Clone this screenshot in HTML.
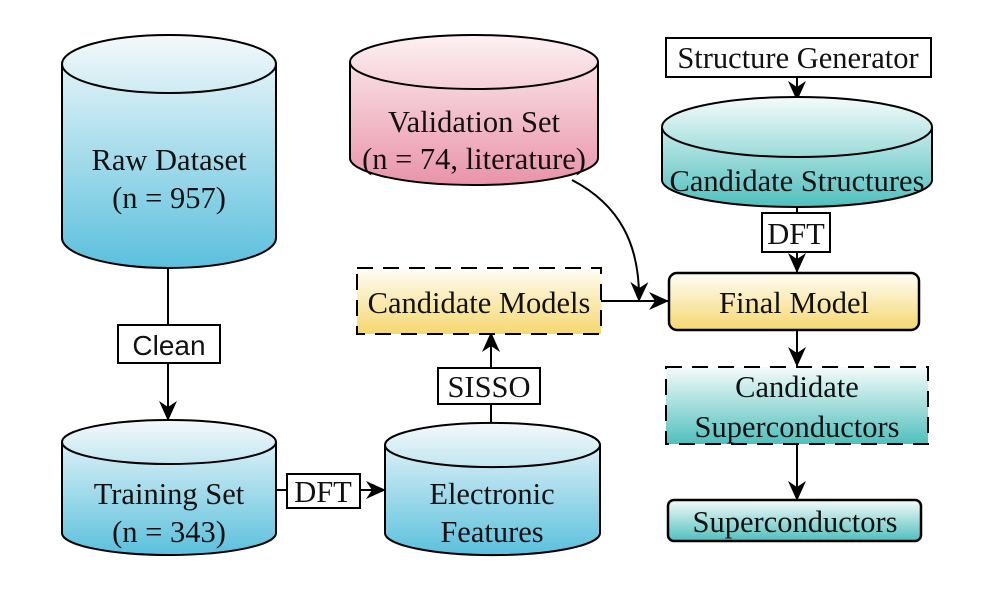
<!DOCTYPE html>
<html><head><meta charset="utf-8"><style>
html,body{margin:0;padding:0;background:#fff;}
svg{display:block;}
text{font-family:"Liberation Serif","Times New Roman",serif;font-size:30.5px;fill:#111;text-anchor:middle;}
</style></head><body>
<svg width="996" height="595" viewBox="0 0 996 595" xmlns="http://www.w3.org/2000/svg">
<defs>
<linearGradient id="blue" x1="0" y1="0" x2="0" y2="1"><stop offset="0" stop-color="#f4f9fb"/><stop offset="1" stop-color="#5bc0dd"/></linearGradient>
<linearGradient id="pink" x1="0" y1="0" x2="0" y2="1"><stop offset="0" stop-color="#fdf1f3"/><stop offset="1" stop-color="#e993a9"/></linearGradient>
<linearGradient id="teal" x1="0" y1="0" x2="0" y2="1"><stop offset="0" stop-color="#f5fbfb"/><stop offset="1" stop-color="#4fc0be"/></linearGradient>
<linearGradient id="yel" x1="0" y1="0" x2="0" y2="1"><stop offset="0" stop-color="#fffdf6"/><stop offset="1" stop-color="#f5d86f"/></linearGradient>
<marker id="ah2" markerWidth="20" markerHeight="20" refX="19" refY="10" orient="auto" markerUnits="userSpaceOnUse"><path d="M0,1 L20,10 L0,19 L6,10 Z" fill="#000"/></marker>
</defs>

<path d="M62,64 L62,238 A107,30 0 0 0 276,238 L276,64 A107,29 0 0 0 62,64 Z" fill="url(#blue)" stroke="#000" stroke-width="2"/>
<path d="M62,64 A107,29 0 0 0 276,64" fill="none" stroke="#000" stroke-width="2"/>
<text x="169" y="170">Raw Dataset</text>
<text x="169" y="208">(n = 957)</text>

<line x1="168" y1="268" x2="168" y2="420" stroke="#000" stroke-width="2" marker-end="url(#ah2)"/>
<rect x="118" y="325" width="102" height="38" fill="#fff" stroke="#000" stroke-width="2"/>
<text x="169" y="355" style="font-family:'Liberation Sans',sans-serif;font-size:28px">Clean</text>

<path d="M62,442 L62,533 A107,22 0 0 0 276,533 L276,442 A107,22 0 0 0 62,442 Z" fill="url(#blue)" stroke="#000" stroke-width="2"/>
<path d="M62,442 A107,22 0 0 0 276,442" fill="none" stroke="#000" stroke-width="2"/>
<text x="169" y="504">Training Set</text>
<text x="169" y="542">(n = 343)</text>

<line x1="276" y1="490" x2="385" y2="490" stroke="#000" stroke-width="2" marker-end="url(#ah2)"/>
<rect x="287" y="474" width="73" height="34" fill="#fff" stroke="#000" stroke-width="2"/>
<text x="323" y="502">DFT</text>

<path d="M385,445 L385,533 A107,22 0 0 0 600,533 L600,445 A107,22 0 0 0 385,445 Z" fill="url(#blue)" stroke="#000" stroke-width="2"/>
<path d="M385,445 A107,22 0 0 0 600,445" fill="none" stroke="#000" stroke-width="2"/>
<text x="492" y="504">Electronic</text>
<text x="492" y="542">Features</text>

<line x1="491" y1="423" x2="491" y2="333" stroke="#000" stroke-width="2" marker-end="url(#ah2)"/>
<rect x="438" y="368" width="102" height="36" fill="#fff" stroke="#000" stroke-width="2"/>
<text x="489" y="397">SISSO</text>

<rect x="357" y="268" width="244" height="66" fill="url(#yel)"/>
<rect x="357" y="268" width="244" height="66" fill="none" stroke="#000" stroke-width="2" stroke-dasharray="16,10"/>
<text x="479" y="313">Candidate Models</text>

<path d="M350,62 L350,158 A124,27 0 0 0 598,158 L598,62 A124,27 0 0 0 350,62 Z" fill="url(#pink)" stroke="#000" stroke-width="2"/>
<path d="M350,62 A124,27 0 0 0 598,62" fill="none" stroke="#000" stroke-width="2"/>
<text x="474" y="132">Validation Set</text>
<text x="474" y="169">(n = 74, literature)</text>

<path d="M572,180 C620,205 640,245 639,301" fill="none" stroke="#000" stroke-width="2" marker-end="url(#ah2)"/>
<line x1="601" y1="301" x2="668" y2="301" stroke="#000" stroke-width="2" marker-end="url(#ah2)"/>

<rect x="666" y="38" width="265" height="39" fill="#fff" stroke="#000" stroke-width="2"/>
<text x="798" y="68">Structure Generator</text>
<line x1="797" y1="77" x2="797" y2="100" stroke="#000" stroke-width="2" marker-end="url(#ah2)"/>

<path d="M662,127 L662,180 A135,27 0 0 0 932,180 L932,127 A135,30 0 0 0 662,127 Z" fill="url(#teal)" stroke="#000" stroke-width="2"/>
<path d="M662,127 A135,30 0 0 0 932,127" fill="none" stroke="#000" stroke-width="2"/>
<text x="797" y="191">Candidate Structures</text>

<line x1="797" y1="207" x2="797" y2="272" stroke="#000" stroke-width="2" marker-end="url(#ah2)"/>
<rect x="762" y="213" width="68" height="39" fill="#fff" stroke="#000" stroke-width="2"/>
<text x="796" y="244">DFT</text>

<rect x="669" y="273" width="250" height="57" rx="8" fill="url(#yel)" stroke="#000" stroke-width="2.5"/>
<text x="794" y="313">Final Model</text>

<line x1="797" y1="330" x2="797" y2="366" stroke="#000" stroke-width="2" marker-end="url(#ah2)"/>

<rect x="666" y="367" width="262" height="77" fill="url(#teal)"/>
<rect x="666" y="367" width="262" height="77" fill="none" stroke="#000" stroke-width="2" stroke-dasharray="16,10"/>
<text x="797" y="397">Candidate</text>
<text x="797" y="437">Superconductors</text>

<line x1="797" y1="444" x2="797" y2="500" stroke="#000" stroke-width="2" marker-end="url(#ah2)"/>

<rect x="668" y="500" width="253" height="41" rx="6" fill="url(#teal)" stroke="#000" stroke-width="2.5"/>
<text x="795" y="532">Superconductors</text>
</svg>
</body></html>
